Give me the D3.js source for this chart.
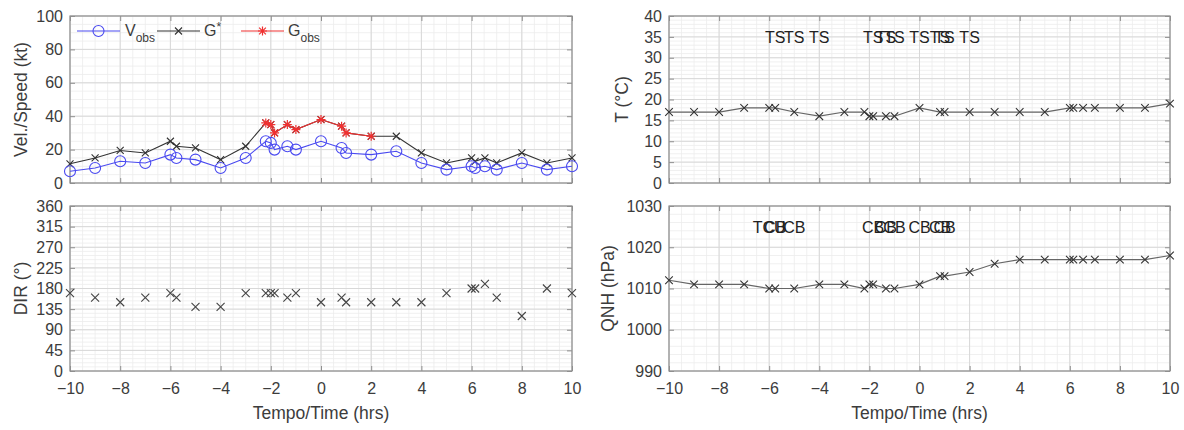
<!DOCTYPE html>
<html><head><meta charset="utf-8">
<script src="https://cdn.jsdelivr.net/npm/d3@7"></script>
<style>
html,body{margin:0;padding:0;background:#fff;}
svg{display:block;font-family:"Liberation Sans",Arial,Helvetica,sans-serif;}
</style></head>
<body><svg id="chart" width="1184" height="430"></svg>
<script>
// ---- data ----
const times = [-10,-9,-8,-7,-6,-5.76,-5,-4,-3,-2.2,-2,-1.85,-1.34,-1,0,0.82,1,2,3,4,5,6,6.14,6.53,7,8,9,10];
const vObs  = [7,9,13,12,17,15,14,9,15,25,24,20,22,20,25,21,18,17,19,12,8,10,9,10,8,12,8,10];
const gStar = [11.5,15,19.5,18,25,22,21,14,22,36,35,30,35,32,38,34,30,28,28,18,12,15,13,15,12,18,12,15];
const gObsTimes  = [-2.2,-2,-1.85,-1.34,-1,0,0.82,1,2];
const gObsValues = [36,35,30,35,32,38,34,30,28];
const dirValues  = [170,160,150,160,170,160,140,140,170,170,170,170,160,170,150,160,150,150,150,150,170,180,180,190,160,120,180,170];
const tempValues = [17,17,17,18,18,18,17,16,17,17,16,16,16,16,18,17,17,17,17,17,17,18,18,18,18,18,18,19];
const qnhValues  = [1012,1011,1011,1011,1010,1010,1010,1011,1011,1010,1011,1011,1010,1010,1011,1013,1013,1014,1016,1017,1017,1017,1017,1017,1017,1017,1017,1018];
const tsTimes  = [-5.76,-5,-4,-1.85,-1.34,-1,0,0.82,1,2];
const tsLabels = ["TS","TS","TS","TS","TS","TS","TS","TS","TS","TS"];
const cbTimes  = [-6,-5.76,-5,-1.85,-1.34,-1,0,0.82,1];
const cbLabels = ["TCU","CB","CB","CB","CB","CB","CB","CB","CB"];
const xTicks = [-10,-8,-6,-4,-2,0,2,4,6,8,10];
const speedTicks = [0,20,40,60,80,100];
const dirTicks = [0,45,90,135,180,225,270,315,360];
const tempTicks = [0,5,10,15,20,25,30,35,40];
const qnhTicks = [990,1000,1010,1020,1030];

const svg = d3.select("#chart");
const TXT = "#3c3c3c", BOX = "#8f8f8f", GMAJ = "#d8d8d8", GMIN = "#ececec";

function panel(o){
  const x = d3.scaleLinear().domain([-10,10]).range([o.x0,o.x1]);
  const y = d3.scaleLinear().domain(o.yd).range([o.y1,o.y0]);
  const g = svg.append("g");
  g.append("rect").attr("x",o.x0).attr("y",o.y0).attr("width",o.x1-o.x0).attr("height",o.y1-o.y0).attr("fill","#fff");
  const xm = d3.range(-10,10.001,0.5), ym = d3.range(o.yd[0],o.yd[1]+1e-6,o.ymin);
  g.selectAll(null).data(xm).enter().append("line")
    .attr("x1",d=>x(d)).attr("x2",d=>x(d)).attr("y1",o.y0).attr("y2",o.y1).attr("stroke",GMIN).attr("stroke-width",0.8);
  g.selectAll(null).data(ym).enter().append("line")
    .attr("y1",d=>y(d)).attr("y2",d=>y(d)).attr("x1",o.x0).attr("x2",o.x1).attr("stroke",GMIN).attr("stroke-width",0.8);
  g.selectAll(null).data(xTicks).enter().append("line")
    .attr("x1",d=>x(d)).attr("x2",d=>x(d)).attr("y1",o.y0).attr("y2",o.y1).attr("stroke",GMAJ).attr("stroke-width",1);
  g.selectAll(null).data(o.yt).enter().append("line")
    .attr("y1",d=>y(d)).attr("y2",d=>y(d)).attr("x1",o.x0).attr("x2",o.x1).attr("stroke",GMAJ).attr("stroke-width",1);
  const ax = (a)=>a.tickSizeOuter(0);
  const bottom = g.append("g").attr("transform",`translate(0,${o.y1})`)
    .call(ax(d3.axisBottom(x).tickValues(xTicks).tickSize(-5).tickPadding(12).tickFormat(o.xlab?d3.format("d"):"")));
  const top = g.append("g").attr("transform",`translate(0,${o.y0})`)
    .call(ax(d3.axisTop(x).tickValues(xTicks).tickSize(-5).tickFormat("")));
  const left = g.append("g").attr("transform",`translate(${o.x0},0)`)
    .call(ax(d3.axisLeft(y).tickValues(o.yt).tickSize(-5).tickPadding(7).tickFormat(d3.format("d"))));
  const right = g.append("g").attr("transform",`translate(${o.x1},0)`)
    .call(ax(d3.axisRight(y).tickValues(o.yt).tickSize(-5).tickFormat("")));
  [bottom,top,left,right].forEach(a=>{
    a.select(".domain").remove();
    a.selectAll("line").attr("stroke",BOX);
    a.selectAll("text").attr("fill",TXT).style("font-size","16px").style("font-family","'Liberation Sans',Arial,sans-serif");
  });
  bottom.selectAll("text").attr("dy","0.71em");
  g.append("rect").attr("x",o.x0).attr("y",o.y0).attr("width",o.x1-o.x0).attr("height",o.y1-o.y0)
    .attr("fill","none").attr("stroke",BOX).attr("stroke-width",1.2);
  g.append("text").attr("transform",`translate(${o.ylx},${(o.y0+o.y1)/2}) rotate(-90)`)
    .attr("text-anchor","middle").attr("dy","0.35em").attr("fill",TXT).style("font-size","17.5px").text(o.ylabel);
  if(o.xlab){
    g.append("text").attr("x",(o.x0+o.x1)/2).attr("y",419).attr("text-anchor","middle")
      .attr("fill",TXT).style("font-size","17.5px").text("Tempo/Time (hrs)");
  }
  return {x,y,g};
}

function xMark(g,cx,cy,s,color,w){
  g.append("path").attr("d",`M${cx-s},${cy-s}L${cx+s},${cy+s}M${cx-s},${cy+s}L${cx+s},${cy-s}`)
    .attr("stroke",color).attr("stroke-width",w||1.1).attr("fill","none");
}
function starMark(g,cx,cy,s,color){
  const p = `M${cx-s},${cy}L${cx+s},${cy}M${cx},${cy-s}L${cx},${cy+s}M${cx-s*0.75},${cy-s*0.75}L${cx+s*0.75},${cy+s*0.75}M${cx-s*0.75},${cy+s*0.75}L${cx+s*0.75},${cy-s*0.75}`;
  g.append("path").attr("d",p).attr("stroke",color).attr("stroke-width",1.2).attr("fill","none");
}

const LX0=70, LX1=572, RX0=669, RX1=1170, TY0=16, TY1=183, BY0=206, BY1=371;

// ---- speed panel ----
const p1 = panel({x0:LX0,x1:LX1,y0:TY0,y1:TY1,yd:[0,100],yt:speedTicks,ymin:5,ylabel:"Vel./Speed (kt)",ylx:21,xlab:false});
const line = (xs,ys,sx,sy)=>d3.line().x((d,i)=>sx(xs[i])).y((d,i)=>sy(ys[i]))(ys);
p1.g.append("path").attr("d",line(times,gStar,p1.x,p1.y)).attr("fill","none").attr("stroke","#333").attr("stroke-width",1.1);
times.forEach((t,i)=>xMark(p1.g,p1.x(t),p1.y(gStar[i]),3.5,"#333"));
p1.g.append("path").attr("d",line(gObsTimes,gObsValues,p1.x,p1.y)).attr("fill","none").attr("stroke","#f03030").attr("stroke-width",1.1);
gObsTimes.forEach((t,i)=>starMark(p1.g,p1.x(t),p1.y(gObsValues[i]),4.5,"#f03030"));
p1.g.append("path").attr("d",line(times,vObs,p1.x,p1.y)).attr("fill","none").attr("stroke","#4a4af0").attr("stroke-width",1.1);
p1.g.selectAll(null).data(times).enter().append("circle")
  .attr("cx",d=>p1.x(d)).attr("cy",(d,i)=>p1.y(vObs[i])).attr("r",5.5)
  .attr("fill","none").attr("stroke","#4a4af0").attr("stroke-width",1.1);
// legend
const lg = p1.g.append("g");
const ly = 31;
lg.append("line").attr("x1",77).attr("x2",120).attr("y1",ly).attr("y2",ly).attr("stroke","#4a4af0").attr("stroke-width",1.1);
lg.append("circle").attr("cx",98.5).attr("cy",ly).attr("r",5.5).attr("fill","none").attr("stroke","#4a4af0").attr("stroke-width",1.1);
let t1 = lg.append("text").attr("x",125).attr("y",ly+5).attr("fill",TXT).style("font-size","16px");
t1.append("tspan").text("V"); t1.append("tspan").attr("dy",6).style("font-size","12px").text("obs");
lg.append("line").attr("x1",157).attr("x2",200).attr("y1",ly).attr("y2",ly).attr("stroke","#333").attr("stroke-width",1.1);
xMark(lg,178.5,ly,3.5,"#333");
let t2 = lg.append("text").attr("x",204).attr("y",ly+5).attr("fill",TXT).style("font-size","16px");
t2.append("tspan").text("G"); t2.append("tspan").attr("dy",-5).style("font-size","12px").text("*");
lg.append("line").attr("x1",241).attr("x2",284).attr("y1",ly).attr("y2",ly).attr("stroke","#f03030").attr("stroke-width",1.1);
starMark(lg,262.5,ly,4.5,"#f03030");
let t3 = lg.append("text").attr("x",288).attr("y",ly+5).attr("fill",TXT).style("font-size","16px");
t3.append("tspan").text("G"); t3.append("tspan").attr("dy",6).style("font-size","12px").text("obs");

// ---- direction panel ----
const p2 = panel({x0:LX0,x1:LX1,y0:BY0,y1:BY1,yd:[0,360],yt:dirTicks,ymin:9,ylabel:"DIR (°)",ylx:21,xlab:true});
times.forEach((t,i)=>xMark(p2.g,p2.x(t),p2.y(dirValues[i]),4,"#444"));

// ---- temperature panel ----
const p3 = panel({x0:RX0,x1:RX1,y0:TY0,y1:TY1,yd:[0,40],yt:tempTicks,ymin:1,ylabel:"T (°C)",ylx:622,xlab:false});
p3.g.append("path").attr("d",line(times,tempValues,p3.x,p3.y)).attr("fill","none").attr("stroke","#666").attr("stroke-width",1.2);
times.forEach((t,i)=>xMark(p3.g,p3.x(t),p3.y(tempValues[i]),3.8,"#333"));
p3.g.selectAll(null).data(tsTimes).enter().append("text")
  .attr("x",d=>p3.x(d)).attr("y",p3.y(35)+6).attr("text-anchor","middle").attr("fill","#222")
  .style("font-size","16px").text((d,i)=>tsLabels[i]);

// ---- QNH panel ----
const p4 = panel({x0:RX0,x1:RX1,y0:BY0,y1:BY1,yd:[990,1030],yt:qnhTicks,ymin:2,ylabel:"QNH (hPa)",ylx:608,xlab:true});
p4.g.append("path").attr("d",line(times,qnhValues,p4.x,p4.y)).attr("fill","none").attr("stroke","#666").attr("stroke-width",1.2);
times.forEach((t,i)=>xMark(p4.g,p4.x(t),p4.y(qnhValues[i]),3.8,"#333"));
p4.g.selectAll(null).data(cbTimes).enter().append("text")
  .attr("x",d=>p4.x(d)).attr("y",p4.y(1025)+6).attr("text-anchor","middle").attr("fill","#222")
  .style("font-size","16px").text((d,i)=>cbLabels[i]);
</script></body></html>
